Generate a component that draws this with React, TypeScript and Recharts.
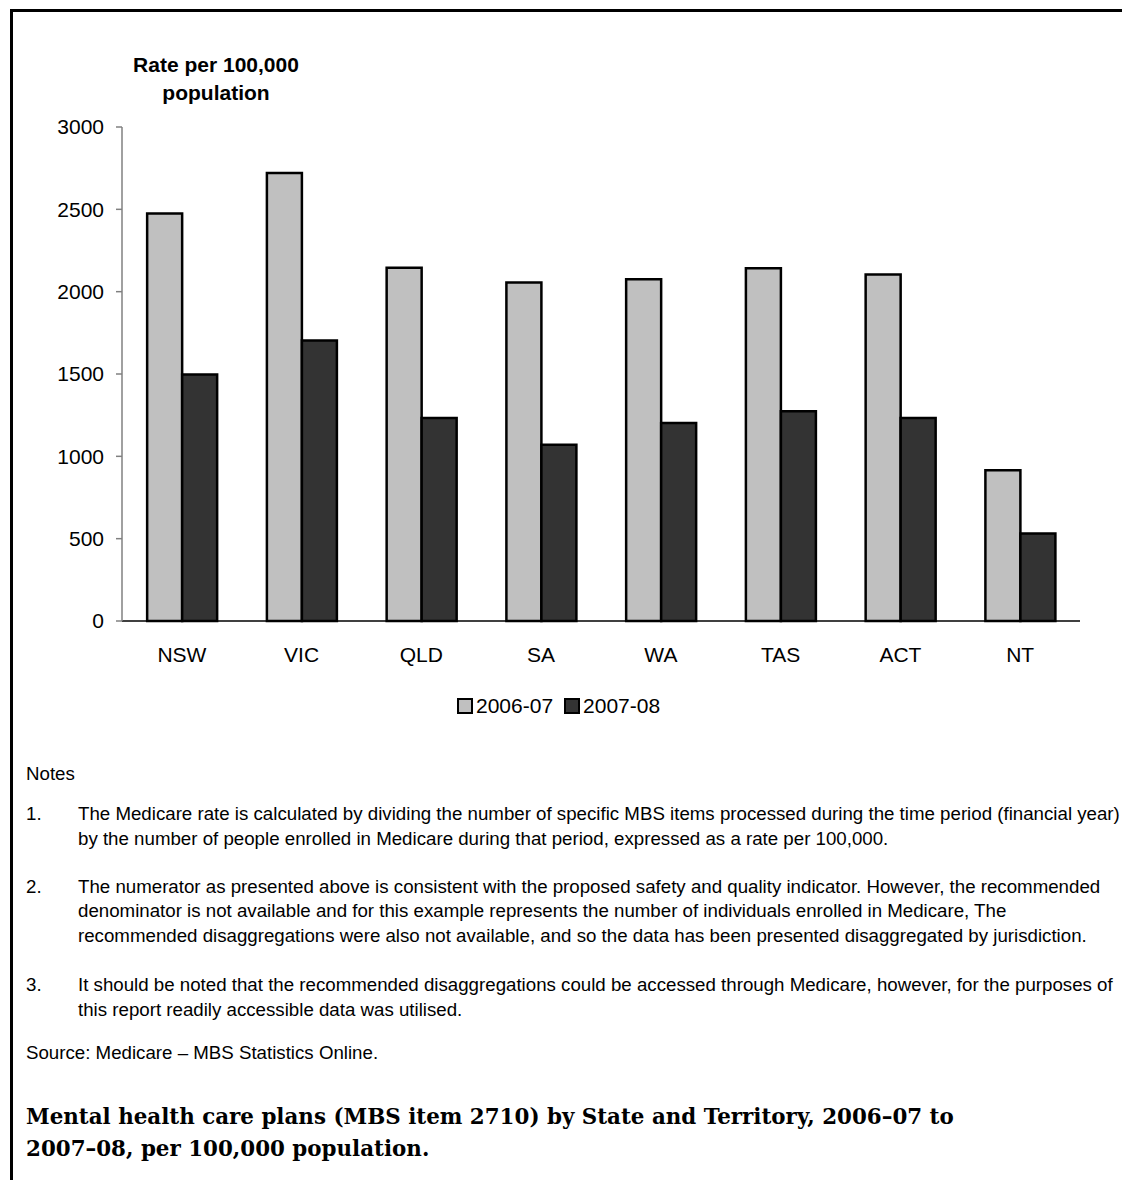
import React from 'react';
import { BarChart, Bar, XAxis, YAxis } from 'recharts';

const states = ['NSW', 'VIC', 'QLD', 'SA', 'WA', 'TAS', 'ACT', 'NT'];
const rate200607 = [2475, 2720, 2145, 2055, 2075, 2142, 2105, 915];
const rate200708 = [1497, 1704, 1233, 1071, 1203, 1274, 1233, 532];
const seriesNames = ['2006-07', '2007-08'];
const seriesColors = ['#c0c0c0', '#333333'];
const yTicks = [0, 500, 1000, 1500, 2000, 2500, 3000];

const notes = [
  [
    'The Medicare rate is calculated by dividing the number of specific MBS items processed during the time period (financial year)',
    'by the number of people enrolled in Medicare during that period, expressed as a rate per 100,000.',
  ],
  [
    'The numerator as presented above is consistent with the proposed safety and quality indicator. However, the recommended',
    'denominator is not available and for this example represents the number of individuals enrolled in Medicare, The',
    'recommended disaggregations were also not available, and so the data has been presented disaggregated by jurisdiction.',
  ],
  [
    'It should be noted that the recommended disaggregations could be accessed through Medicare, however, for the purposes of',
    'this report readily accessible data was utilised.',
  ],
];
// gap above each numbered note
const noteGaps = [18, 23.5, 25];

const data = states.map((s, i) => ({ state: s, a: rate200607[i], b: rate200708[i] }));

const sans = '"Liberation Sans", Arial, sans-serif';

export default function App() {
  return (
    <div style={{ position: 'absolute', left: 0, top: 0, width: 1122, height: 1180, overflow: 'hidden', background: '#fff', fontFamily: sans }}>
      <div style={{ position: 'absolute', left: 10, top: 9, width: 1200, height: 1250, border: '3px solid #000' }} />

      <div style={{ position: 'absolute', left: 116, top: 51, width: 200, textAlign: 'center', fontWeight: 'bold', fontSize: 21, lineHeight: '28px', color: '#000', whiteSpace: 'nowrap' }}>
        Rate per 100,000<br />population
      </div>

      <div style={{ position: 'absolute', left: 0, top: 0 }}>
        <BarChart
          width={1122}
          height={700}
          data={data}
          margin={{ top: 127, right: 42, bottom: 19, left: 0 }}
          barCategoryGap="21%"
          barGap={0}
        >
          <XAxis
            dataKey="state"
            height={60}
            tickLine={false}
            tickSize={6}
            tickMargin={20}
            axisLine={{ stroke: '#000', strokeWidth: 1.5 }}
            tick={{ fill: '#000', fontSize: 21, fontFamily: sans }}
          />
          <YAxis
            width={122}
            domain={[0, 3000]}
            ticks={yTicks}
            tickSize={6}
            tickMargin={12}
            axisLine={{ stroke: '#808080', strokeWidth: 1.5 }}
            tickLine={{ stroke: '#808080', strokeWidth: 1.5 }}
            tick={{ fill: '#000', fontSize: 21, fontFamily: sans }}
            interval={0}
          />
          <Bar dataKey="a" name={seriesNames[0]} fill={seriesColors[0]} stroke="#000" strokeWidth={2.5} isAnimationActive={false} />
          <Bar dataKey="b" name={seriesNames[1]} fill={seriesColors[1]} stroke="#000" strokeWidth={2.5} isAnimationActive={false} />
        </BarChart>
      </div>

      <div style={{ position: 'absolute', left: 457, top: 694, display: 'flex', alignItems: 'center', fontSize: 21, color: '#000' }}>
        {seriesNames.map((n, i) => (
          <div key={n} style={{ display: 'flex', alignItems: 'center', marginRight: 11 }}>
            <span style={{ display: 'inline-block', width: 12, height: 12, background: seriesColors[i], border: '2px solid #000', marginRight: 3 }} />
            <span>{n}</span>
          </div>
        ))}
      </div>

      <div style={{ position: 'absolute', left: 26, top: 764, fontSize: 18.7, color: '#000', whiteSpace: 'nowrap' }}>
        <div style={{ lineHeight: '20px' }}>Notes</div>
        {notes.map((lines, i) => (
          <div key={i} style={{ display: 'flex', marginTop: noteGaps[i] }}>
            <div style={{ width: 52, lineHeight: '24.5px' }}>{i + 1}.</div>
            <div style={{ lineHeight: '24.5px' }}>
              {lines.map((l, j) => (
                <div key={j}>{l}</div>
              ))}
            </div>
          </div>
        ))}
        <div style={{ lineHeight: '24px', marginTop: 19 }}>Source: Medicare – MBS Statistics Online.</div>
      </div>

      <div style={{ position: 'absolute', left: 26, top: 1101, fontFamily: '"DejaVu Serif", serif', fontWeight: 'bold', fontSize: 21.4, lineHeight: '32px', color: '#000', whiteSpace: 'nowrap' }}>
        Mental health care plans (MBS item 2710) by State and Territory, 2006–07 to<br />
        2007–08, per 100,000 population.
      </div>
    </div>
  );
}
